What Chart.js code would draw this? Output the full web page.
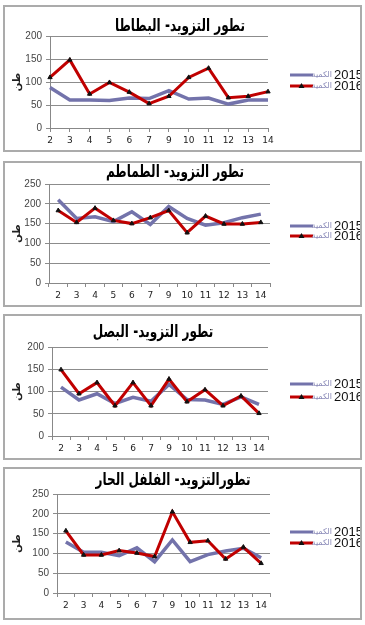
<!DOCTYPE html>
<html>
<head>
<meta charset="utf-8">
<script src="https://cdn.jsdelivr.net/npm/chart.js@4.4.0/dist/chart.umd.min.js"></script>
<style>
  body { margin: 0; background: #fff; width: 365px; height: 625px; position: relative; overflow: hidden; }
  .panel { position: absolute; left: 3px; width: 355px; border: 2px solid #ababab; background: #fff; }
  .panel canvas { display: block; }
</style>
</head>
<body>
<div class="panel" style="top:5px;height:143px"><canvas id="c1" width="355" height="143"></canvas></div>
<div class="panel" style="top:161px;height:142px"><canvas id="c2" width="355" height="142"></canvas></div>
<div class="panel" style="top:314px;height:142px"><canvas id="c3" width="355" height="142"></canvas></div>
<div class="panel" style="top:467px;height:149px"><canvas id="c4" width="355" height="149"></canvas></div>
<script>
const weeks = ['2', '3', '4', '5', '6', '7', '9', '10', '11', '12', '13', '14'];
const seriesNames = ['2015', '2016'];
const legendWord = 'الكمية';
const yTitle = 'طن';

const titles = [
  'تطور التزويد- البطاطا',
  'تطور التزويد- الطماطم',
  'تطور التزويد- البصل',
  'تطورالتزويد- الفلفل الحار'
];

const potato2015 = [88, 61, 61, 60, 65, 64, 81, 63, 65, 52, 61, 61];
const potato2016 = [110, 148, 74, 99, 78, 53, 69, 110, 130, 66, 69, 79];
const tomato2015 = [210, 163, 167, 155, 180, 148, 193, 163, 146, 152, 165, 174];
const tomato2016 = [183, 153, 189, 158, 150, 165, 183, 127, 169, 149, 149, 153];
const onion2015 = [110, 81, 95, 73, 87, 78, 116, 82, 81, 71, 88, 71];
const onion2016 = [149, 95, 120, 68, 120, 68, 128, 77, 104, 68, 90, 51];
const pepper2015 = [129, 103, 103, 94, 114, 79, 134, 79, 97, 106, 113, 89];
const pepper2016 = [157, 96, 96, 107, 101, 92, 205, 128, 132, 86, 116, 75];

const yMax = [200, 250, 200, 250];

const purple = '#7373ab';
const red = '#c00000';

// title + legend drawn by hand, the built-in ones get squeezed by the right padding
const panelText = {
  id: 'panelText',
  afterDraw(chart, args, opts) {
    const ctx = chart.ctx;
    ctx.save();
    // title, condensed like the original font
    ctx.fillStyle = '#000';
    ctx.font = 'bold 17px "DejaVu Sans"';
    ctx.textAlign = 'center';
    ctx.textBaseline = 'middle';
    ctx.translate(opts.titleX, opts.titleY);
    ctx.scale(0.71, 1);
    ctx.fillText(opts.title, 0, 0);
    ctx.setTransform(1, 0, 0, 1, 0, 0);

    chart.data.datasets.forEach((ds, i) => {
      const y = opts.legendY[i];
      ctx.strokeStyle = ds.borderColor;
      ctx.lineWidth = 3;
      ctx.beginPath();
      ctx.moveTo(285, y);
      ctx.lineTo(308, y);
      ctx.stroke();
      if (ds.pointStyle === 'triangle') {
        ctx.fillStyle = '#111';
        ctx.beginPath();
        ctx.moveTo(296.5, y - 3);
        ctx.lineTo(299.5, y + 2);
        ctx.lineTo(293.5, y + 2);
        ctx.closePath();
        ctx.fill();
      }
      ctx.textBaseline = 'middle';
      ctx.fillStyle = '#8a8ab8';
      ctx.font = '8px "DejaVu Sans"';
      ctx.textAlign = 'right';
      ctx.fillText(legendWord, 327, y);
      ctx.fillStyle = '#111';
      ctx.font = '13px "Liberation Sans"';
      ctx.textAlign = 'left';
      ctx.fillText(seriesNames[i], 329, y + 0.5);
    });
    ctx.restore();
  }
};

function makeChart(id, n, d15, d16, box) {
  const canvas = document.getElementById(id);
  const W = canvas.width, H = canvas.height;
  return new Chart(canvas, {
    type: 'line',
    data: {
      labels: weeks,
      datasets: [{
        label: seriesNames[0],
        data: d15,
        borderColor: purple,
        borderWidth: 3.5,
        pointRadius: 0,
        tension: 0,
        order: 1
      }, {
        label: seriesNames[1],
        data: d16,
        borderColor: red,
        borderWidth: 3,
        pointStyle: 'triangle',
        pointRadius: 2.5,
        pointBackgroundColor: '#111',
        pointBorderColor: '#111',
        pointBorderWidth: 1,
        tension: 0,
        order: 0
      }]
    },
    options: {
      responsive: false,
      animation: false,
      layout: {
        padding: { left: 0, top: box.top, right: W - box.right, bottom: H - box.bottom - 20 }
      },
      plugins: {
        legend: { display: false },
        tooltip: { enabled: false },
        title: { display: false },
        panelText: { title: titles[n], titleX: box.titleX, titleY: box.titleY, legendY: box.legendY }
      },
      scales: {
        x: {
          offset: box.offset,
          grid: { display: true, drawOnChartArea: false, offset: box.offset, color: '#888', tickLength: 4 },
          border: { color: '#888' },
          ticks: { color: '#222', font: { family: '"DejaVu Sans"', size: 9 }, padding: 3, maxRotation: 0, autoSkip: false },
          afterFit(s) { s.height = 20; }
        },
        y: {
          min: 0,
          max: yMax[n],
          grid: { color: '#8c8c8c', tickLength: 4 },
          border: { color: '#888' },
          ticks: { stepSize: 50, color: '#444', font: { family: '"Liberation Sans"', size: 10 }, padding: 4 },
          title: { display: true, text: yTitle, color: '#222', font: { family: '"DejaVu Sans"', size: 10, weight: 'bold' }, padding: { top: 6, bottom: 0 } },
          afterFit(s) { s.width = box.left; }
        }
      }
    },
    plugins: [panelText]
  });
}

makeChart('c1', 0, potato2015, potato2016,
  { left: 45, right: 263, top: 29, bottom: 121, titleX: 175, titleY: 20, offset: false, legendY: [68, 79] });
makeChart('c2', 1, tomato2015, tomato2016,
  { left: 44, right: 265, top: 21, bottom: 120, titleX: 170, titleY: 10, offset: true, legendY: [63, 73] });
makeChart('c3', 2, onion2015, onion2016,
  { left: 47, right: 263, top: 31, bottom: 120, titleX: 148, titleY: 17, offset: true, legendY: [68, 81] });
makeChart('c4', 3, pepper2015, pepper2016,
  { left: 52, right: 265, top: 25, bottom: 124, titleX: 168, titleY: 12, offset: true, legendY: [63, 74] });
</script>
</body>
</html>
